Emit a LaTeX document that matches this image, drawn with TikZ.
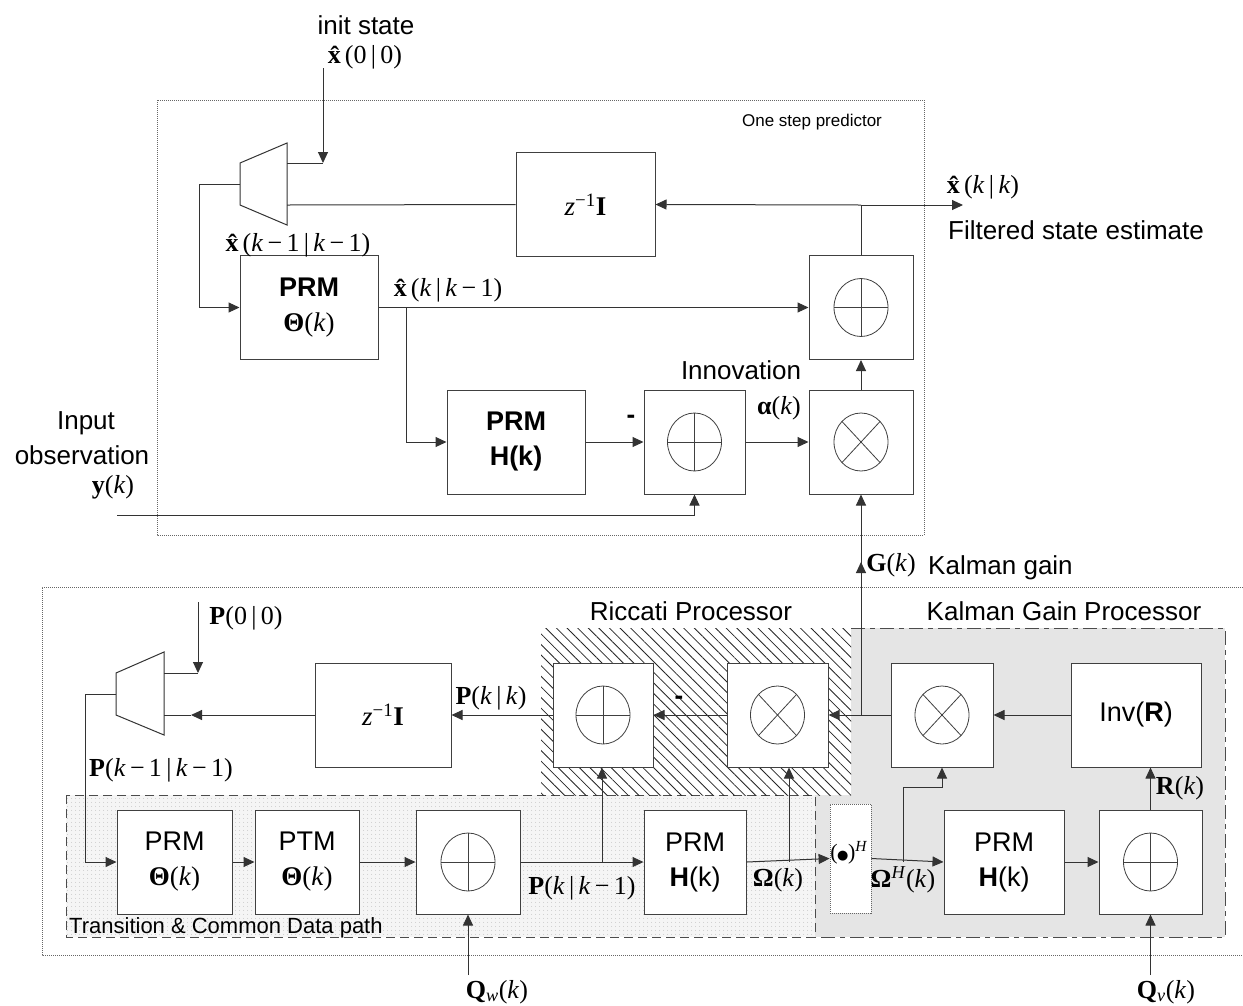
\documentclass[tikz,border=0pt]{standalone}
\usepackage{fontspec}
\usepackage{graphicx}
\setmainfont{Liberation Sans}
\newfontfamily\tms{Liberation Serif}
\newfontfamily\djv{DejaVu Sans}
\usetikzlibrary{arrows.meta,patterns.meta,calc}
\newcommand\Mt[1]{{\tms #1}}
\begin{document}
\begin{tikzpicture}[x=1pt,y=-1pt,
  every node/.style={font=\fontsize{26}{30}\selectfont, inner sep=0pt},
  ln/.style={draw=black!80, line width=1pt},
  arr/.style={ln, -{Triangle[length=11pt,width=10pt]}},
  blk/.style={draw=black!75, line width=1pt, fill=white, minimum width=#1, minimum height=104,
    align=center, font=\fontsize{27}{35}\selectfont},
  sumsym/.style={path picture={
    \coordinate (pc) at (path picture bounding box.center);
    \draw[line width=0.8pt] (pc) ellipse [x radius=27, y radius=29];
    \draw[line width=0.8pt] ([xshift=-27pt]pc) -- ([xshift=27pt]pc);
    \draw[line width=0.8pt] ([yshift=-29pt]pc) -- ([yshift=29pt]pc);}},
  mulsym/.style={path picture={
    \coordinate (pc) at (path picture bounding box.center);
    \draw[line width=0.8pt] (pc) ellipse [x radius=27, y radius=29];
    \draw[line width=0.8pt] ([shift={(-19,-20.5)}]pc) -- ([shift={(19,20.5)}]pc);
    \draw[line width=0.8pt] ([shift={(-19,20.5)}]pc) -- ([shift={(19,-20.5)}]pc);}},
  dotbox/.style={draw=black!60, line width=0.8pt, dash pattern=on 1pt off 1pt},
  trb/.style={draw=black!70, line width=1pt, dash pattern=on 9pt off 5pt},
  kgb/.style={draw=black!70, line width=1pt, dash pattern=on 14pt off 5pt on 5pt off 5pt},
  small/.style={font=\fontsize{17}{20}\selectfont},
  mid/.style={font=\fontsize{22}{26}\selectfont}
]
\useasboundingbox (0,0) rectangle (1243,1005);

% ---------- region backgrounds ----------
\draw[dotbox] (157,100) rectangle (924,535);
\draw[dotbox] (1243,587) -- (42,587) -- (42,955) -- (1243,955);
\fill[gray!20] (541,628) rectangle (1225,937);
\draw[kgb] (851,628) -- (1225,628) -- (1225,937) -- (815,937);
\fill[gray!8] (66,795) rectangle (815,937);
\fill[pattern={Dots[distance=4pt,radius=0.55pt]}, pattern color=gray!55] (66,795) rectangle (815,937);
\draw[trb] (66,795) rectangle (815,937);
\fill[white] (541,628) rectangle (851,795);
\fill[pattern={Lines[angle=-45,distance=7.5pt,line width=0.8pt]}, pattern color=black!85] (541,628) rectangle (851,795);

% ---------- top: one step predictor ----------
\node (tinit) at (366,25) {init state};
\node (tx00) at (365,57) {\Mt{\textbf{\^x}(0\,|\,0)}};
\node[small] (tosp) at (812,122) {One step predictor};
\draw[ln, fill=white] (240,163) -- (287,143) -- (287,225) -- (240,205) -- cycle;
\coordinate (m1a) at (287,163);
\coordinate (m1b) at (287,205);
\coordinate (m1o) at (240,184);
\coordinate (m1in) at (323,163);
\coordinate (tinitbot) at (323,68);

\node[blk=139] (zt) at (585.5,204.5) {\Mt{\textit{z}\textsuperscript{−1}\textbf{I}}};
\node[blk=138] (prmT) at (309,307.5) {\textbf{PRM}\\\Mt{\textbf{Θ}(\textit{k})}};
\node[blk=138] (prmH) at (516,442) {\textbf{PRM}\\\textbf{H(k)}};
\node[blk=104, sumsym] (sumT) at (861,307.5) {};
\node[blk=101, sumsym] (subT) at (694.5,442) {};
\node[blk=104, mulsym] (mulT) at (861,442) {};

\node (txkm) at (298,245) {\Mt{\textbf{\^x}(\textit{k}\,−\,1\,|\,\textit{k}\,−\,1)}};
\node (txk1) at (448,290) {\Mt{\textbf{\^x}(\textit{k}\,|\,\textit{k}\,−\,1)}};
\node (txkk) at (983,187) {\Mt{\textbf{\^x}(\textit{k}\,|\,\textit{k})}};
\node (tfse) at (1076,230) {Filtered state estimate};
\node (tinn) at (741,370) {Innovation};
\node (talpha) at (779,408) {\Mt{\textbf{α}(\textit{k})}};
\node (tminus1) at (631,419) {\textbf{-}};
\node (tin1) at (86,423) {Input};
\node (tin2) at (82,455) {observation};
\node (tin3) at (113,487) {\Mt{\textbf{y}(\textit{k})}};
\coordinate (yin) at (117,515);
\coordinate (xout) at (963,205);
\coordinate (xj) at (861,205);
\coordinate (b1) at (406,307.5);

\draw[arr] (tinitbot) -- (m1in);
\draw[ln] (m1a) -- (m1in);
\draw[ln] (zt.west) -- (m1b);
\draw[arr] (m1o) -- (199,184) |- (prmT.west);
\draw[arr] (prmT.east) -- (sumT.west);
\draw[arr] (b1) |- (prmH.west);
\draw[arr] (prmH.east) -- (subT.west);
\draw[arr] (subT.east) -- (mulT.west);
\draw[arr] (mulT.north) -- (sumT.south);
\draw[ln] (sumT.north) -- (xj);
\draw[arr] (xj) -- (zt.east);
\draw[arr] (xj) -- (xout);
\draw[arr] (yin) -| (subT.south);

% ---------- bottom: Riccati / Kalman gain ----------
\node (tric) at (691,611) {Riccati Processor};
\node (tkgp) at (1064,611) {Kalman Gain Processor};
\node (tgk) at (891,565) {\Mt{\textbf{G}(\textit{k})}};
\node[anchor=west] (tkg) at (928,568) {Kalman gain};

\draw[ln, fill=white] (116,673) -- (164,652) -- (164,735) -- (116,715) -- cycle;
\coordinate (m2a) at (164,673);
\coordinate (m2b) at (164,715);
\coordinate (m2o) at (116,694);
\coordinate (p0top) at (198,602);
\coordinate (p0bot) at (198,673);
\coordinate (m2arr) at (191,715);

\node[blk=136] (zb) at (383,715) {\Mt{\textit{z}\textsuperscript{−1}\textbf{I}}};
\node[blk=100, sumsym] (ricSum) at (603,715) {};
\node[blk=101, mulsym] (ricMul) at (777.5,715) {};
\node[blk=102, mulsym] (kgMul) at (942,715) {};
\node[blk=130] (invR) at (1136,715) {Inv(\textbf{R})};
\node[blk=115] (prmB) at (174.5,862) {PRM\\\Mt{\textbf{Θ}(\textit{k})}};
\node[blk=104] (ptm) at (307,862) {PTM\\\Mt{\textbf{Θ}(\textit{k})}};
\node[blk=104, sumsym] (sumB) at (468,862) {};
\node[blk=102] (prmHB) at (695,862) {PRM\\\textbf{H}(k)};
\node[blk=41, minimum height=109, draw=black!60, line width=0.8pt, dash pattern=on 1pt off 1pt] (herm) at (850.5,858.5) {};
\node (therm) at (849,853) {\Mt{\fontsize{22}{26}\selectfont(\kern-0.5pt{\djv\fontsize{13}{15}\selectfont ●}\kern-0.5pt)\textsuperscript{\textit{H}}}};
\node[blk=120] (prmH2) at (1004,862) {PRM\\\textbf{H}(k)};
\node[blk=103, sumsym] (sumR) at (1150.5,862) {};

\node (tp00) at (246,618) {\Mt{\textbf{P}(0\,|\,0)}};
\node (tpkk) at (491,698) {\Mt{\textbf{P}(\textit{k}\,|\,\textit{k})}};
\node (tminus2) at (679,700) {\textbf{-}};
\node (tpkm) at (161,770) {\Mt{\textbf{P}(\textit{k}\,−\,1\,|\,\textit{k}\,−\,1)}};
\node (trk) at (1180,788) {\Mt{\textbf{R}(\textit{k})}};
\node (tpk1) at (582,888) {\Mt{\textbf{P}(\textit{k}\,|\,\textit{k}\,−\,1)}};
\node (tom) at (778,880) {\Mt{\textbf{Ω}(\textit{k})}};
\node (tomh) at (903,880) {\Mt{\textbf{Ω}\textsuperscript{\textit{H}}(\textit{k})}};
\node[mid, anchor=west] (ttr) at (69,928) {Transition \& Common Data path};
\node (tqw) at (497,992) {\Mt{\textbf{Q}\textsubscript{\textit{w}}(\textit{k})}};
\node (tqv) at (1166,992) {\Mt{\textbf{Q}\textsubscript{\textit{v}}(\textit{k})}};

\coordinate (gj) at (861,715);
\coordinate (garr) at (861,562);
\coordinate (b2) at (602,862);
\coordinate (b3) at (789,862);
\coordinate (b4) at (903,862);
\coordinate (b4u) at (903,787);
\coordinate (qws) at (468,975);
\coordinate (qvs) at (1150.5,975);
\coordinate (pleft) at (85,694);

\draw[arr] (p0top) -- (p0bot);
\draw[ln] (m2a) -- (p0bot);
\draw[arr] (zb.west) -- (m2arr);
\draw[ln] (m2arr) -- (m2b);
\draw[arr] (m2o) -- (pleft) |- (prmB.west);
\draw[arr] (prmB.east) -- (ptm.west);
\draw[arr] (ptm.east) -- (sumB.west);
\draw[arr] (sumB.east) -- (prmHB.west);
\draw[arr] (b2) -- (b2 |- ricSum.south);
\draw[arr] (prmHB.east) -- (herm.west);
\draw[arr] (b3) -- (b3 |- ricMul.south);
\draw[arr] (herm.east) -- (prmH2.west);
\draw[arr] (b4) -- (b4u) -| (kgMul.south);
\draw[arr] (prmH2.east) -- (sumR.west);
\draw[arr] (sumR.north) -- (sumR.north |- invR.south);
\draw[arr] (qws) -- (sumB.south);
\draw[arr] (qvs) -- (sumR.south);
\draw[arr] (invR.west) -- (kgMul.east);
\draw[arr] (kgMul.west) -- (ricMul.east);
\draw[arr] (ricMul.west) -- (ricSum.east);
\draw[arr] (ricSum.west) -- (zb.east);
\draw[arr] (gj) -- (mulT.south);
\draw[arr] (gj) -- (garr);
\end{tikzpicture}
\end{document}
